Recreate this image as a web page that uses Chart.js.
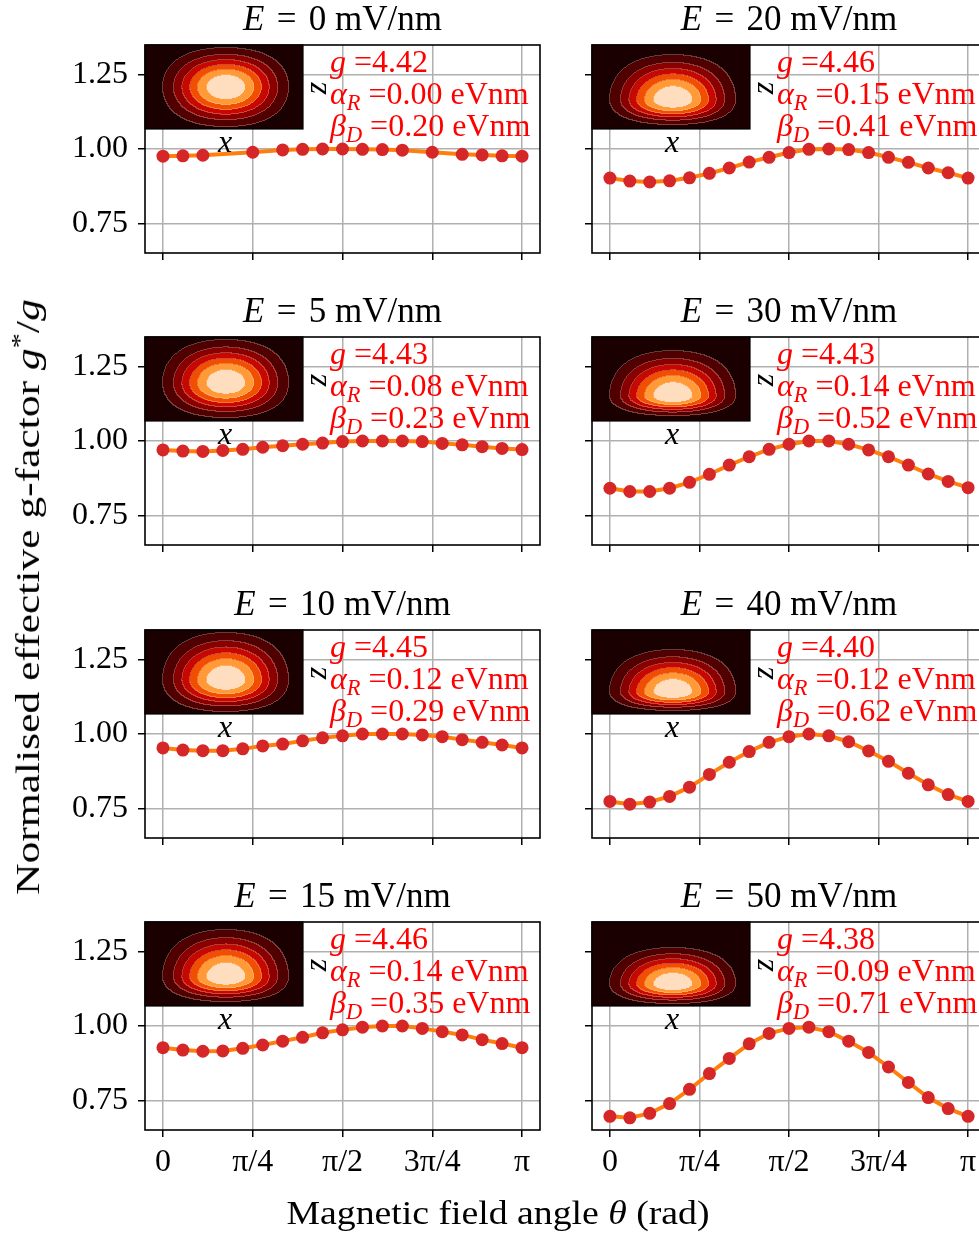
<!DOCTYPE html>
<html lang="en">
<head>
<meta charset="UTF-8">
<title>Normalised effective g-factor vs field angle</title>
<script src="https://cdn.jsdelivr.net/npm/chart.js"></script>
<style>
  html, body { margin: 0; padding: 0; background: #fff; overflow: hidden; }
  body { width: 979px; height: 1235px; position: relative; font-family: 'Liberation Serif', 'Times New Roman', serif; }
  canvas { position: absolute; }
  .lbl { position: absolute; white-space: nowrap; font-size: 32px; line-height: 32px; color: #000; }
  .title { width: 400px; text-align: center; font-size: 35px; }
  .title .eq { margin: 0 0.1em; }
  .note { color: #ff0000; }
  .note sub { font-size: 70%; line-height: 0; vertical-align: -0.28em; }
  .rot { transform: translate(-50%, -50%) rotate(-90deg); }
  .mid { transform: translate(-50%, -50%); }
  .axis { font-size: 34px; }
</style>
</head>
<body>
<script>
// angles of the computed points (degrees)
const anglesDeg = [0, 10, 20, 30, 40, 50, 60, 70, 80, 90, 100, 110, 120, 130, 140, 150, 160, 170, 180];
const anglesDegE0 = [0, 10, 20, 45, 60, 70, 80, 90, 100, 110, 120, 135, 150, 160, 170, 180];

// normalised g*/g for each electric field
const gE0  = [0.976, 0.977, 0.979, 0.989, 0.997, 0.999, 1.000, 1.000, 0.999, 0.998, 0.996, 0.989, 0.982, 0.980, 0.977, 0.976];
const gE5  = [0.970, 0.966, 0.965, 0.968, 0.972, 0.979, 0.984, 0.989, 0.993, 0.998, 1.000, 1.000, 1.000, 0.998, 0.992, 0.987, 0.981, 0.975, 0.971];
const gE10 = [0.953, 0.946, 0.944, 0.944, 0.950, 0.960, 0.966, 0.977, 0.987, 0.994, 1.000, 1.000, 1.000, 0.997, 0.991, 0.981, 0.972, 0.963, 0.953];
const gE15 = [0.927, 0.919, 0.915, 0.916, 0.925, 0.936, 0.949, 0.962, 0.977, 0.987, 0.996, 1.000, 1.000, 0.992, 0.981, 0.970, 0.954, 0.941, 0.927];
const gE20 = [0.902, 0.892, 0.889, 0.893, 0.903, 0.918, 0.936, 0.956, 0.972, 0.988, 0.999, 1.000, 0.998, 0.988, 0.972, 0.955, 0.936, 0.920, 0.902];
const gE30 = [0.841, 0.830, 0.830, 0.841, 0.861, 0.888, 0.919, 0.947, 0.972, 0.989, 1.000, 1.000, 0.989, 0.970, 0.947, 0.919, 0.889, 0.864, 0.843];
const gE40 = [0.773, 0.764, 0.771, 0.790, 0.821, 0.864, 0.905, 0.941, 0.972, 0.991, 1.000, 0.994, 0.974, 0.943, 0.908, 0.868, 0.829, 0.796, 0.773];
const gE50 = [0.696, 0.691, 0.706, 0.739, 0.787, 0.840, 0.891, 0.940, 0.975, 0.992, 0.996, 0.981, 0.949, 0.911, 0.862, 0.810, 0.759, 0.722, 0.696];

// panel annotations
const fields  = [0, 5, 10, 15, 20, 30, 40, 50];
const gFactor = [4.42, 4.43, 4.45, 4.46, 4.46, 4.43, 4.40, 4.38];
const alphaR  = [0.00, 0.08, 0.12, 0.14, 0.15, 0.14, 0.12, 0.09];
const betaD   = [0.20, 0.23, 0.29, 0.35, 0.41, 0.52, 0.62, 0.71];

// ticks
const xTickValues = [0, Math.PI / 4, Math.PI / 2, 3 * Math.PI / 4, Math.PI];
const xTickLabels = ['0', 'π/4', 'π/2', '3π/4', 'π'];
const yTickValues = [0.75, 1.00, 1.25];

// inset density shape (px inside the 158x84 inset): peak row, reach above and below
const insetPeak = [42, 46, 50, 55, 55, 59, 62, 62];
const insetUp   = [39, 43, 47, 47, 45, 45, 42, 36];
const insetDown = [40, 35, 32, 25, 25, 20, 19, 20];

const series = [gE0, gE5, gE10, gE15, gE20, gE30, gE40, gE50];

// layout
const rowTops = [45, 337, 630, 922];
const axH = 208;
const colLeft = [145, 592];
const colRight = [540, 986];
const canvasLeft = [0, 560];
const canvasWidth = [560, 440];
const insetW = 158, insetH = 84;
const tickFont = { family: "'Liberation Serif', serif", size: 32 };

const bandColors = [[26, 0, 0], [80, 0, 0], [138, 0, 0], [198, 8, 0], [240, 78, 0], [255, 154, 54], [255, 222, 192]];

// flat-topped bump that reaches 1/7 at distance D
function bump(d, D) {
  const t = 0.908 * d / D;
  if (Math.abs(t) >= Math.PI / 2) return 0;
  return Math.cos(t) ** 4;
}

function makeInset(p) {
  const off = document.createElement('canvas');
  off.width = insetW; off.height = insetH;
  const c = off.getContext('2d');
  const img = c.createImageData(insetW, insetH);
  const band = new Uint8Array(insetW * insetH);
  for (let j = 0; j < insetH; j++) {
    for (let i = 0; i < insetW; i++) {
      const dx = i + 0.5 - 81;
      const dz = j + 0.5 - insetPeak[p];
      const d = bump(dx, 63) * bump(dz, dz < 0 ? insetUp[p] : insetDown[p]);
      band[j * insetW + i] = Math.min(6, Math.floor(d * 7));
    }
  }
  for (let j = 0; j < insetH; j++) {
    for (let i = 0; i < insetW; i++) {
      const n = j * insetW + i;
      let [r, g, b] = bandColors[band[n]];
      const edge = (i + 1 < insetW && band[n + 1] !== band[n]) || (j + 1 < insetH && band[n + insetW] !== band[n]);
      if (edge) { r = r * 0.7 + 255 * 0.3; g = g * 0.7 + 210 * 0.3; b = b * 0.7 + 190 * 0.3; }
      img.data[4 * n] = r; img.data[4 * n + 1] = g; img.data[4 * n + 2] = b; img.data[4 * n + 3] = 255;
    }
  }
  c.putImageData(img, 0, 0);
  return off;
}

function makeDecor(inset) {
  return {
    id: 'panelDecor',
    afterDraw(chart) {
      const { ctx, chartArea: a } = chart;
      ctx.save();
      ctx.strokeStyle = '#000';
      ctx.lineWidth = 1.6;
      ctx.strokeRect(a.left, a.top, a.right - a.left, a.bottom - a.top);
      ctx.drawImage(inset, a.left, a.top);
      ctx.lineWidth = 1.2;
      ctx.strokeRect(a.left, a.top, insetW, insetH);
      ctx.restore();
    }
  };
}

function addLabel(html, cls, left, top) {
  const d = document.createElement('div');
  d.className = 'lbl ' + cls;
  d.innerHTML = html;
  d.style.left = left + 'px';
  d.style.top = top + 'px';
  document.body.appendChild(d);
  return d;
}

series.forEach((values, p) => {
  const col = p < 4 ? 0 : 1;
  const row = p % 4;
  const angles = p === 0 ? anglesDegE0 : anglesDeg;
  const bottomRow = row === 3;
  const xAxisH = bottomRow ? 60 : 12;
  const cTop = rowTops[row] - 10;
  const cH = 10 + axH + (bottomRow ? 70 : 20);

  const canvas = document.createElement('canvas');
  canvas.width = canvasWidth[col];
  canvas.height = cH;
  canvas.style.left = canvasLeft[col] + 'px';
  canvas.style.top = cTop + 'px';
  document.body.appendChild(canvas);

  new Chart(canvas, {
    type: 'line',
    data: {
      datasets: [{
        data: angles.map((a, i) => ({ x: a * Math.PI / 180, y: values[i] })),
        borderColor: '#ff7f0e',
        borderWidth: 4,
        pointBackgroundColor: '#d62728',
        pointBorderColor: '#d62728',
        pointBorderWidth: 0,
        pointRadius: 6.5,
        tension: 0
      }]
    },
    options: {
      responsive: false,
      animation: false,
      devicePixelRatio: 1,
      layout: {
        padding: {
          left: 0,
          right: canvasLeft[col] + canvasWidth[col] - colRight[col],
          top: 10,
          bottom: cH - 10 - axH - xAxisH
        }
      },
      plugins: { legend: { display: false }, tooltip: { enabled: false } },
      scales: {
        x: {
          type: 'linear',
          min: -0.05 * Math.PI,
          max: 1.05 * Math.PI,
          afterBuildTicks: s => { s.ticks = xTickValues.map(v => ({ value: v })); },
          afterFit: s => { s.height = xAxisH; s.paddingLeft = 0; s.paddingRight = 0; },
          ticks: {
            display: bottomRow,
            autoSkip: false,
            maxRotation: 0,
            padding: 6,
            color: '#000',
            font: tickFont,
            callback: (v, i) => xTickLabels[i]
          },
          grid: { color: '#b0b0b0', lineWidth: 1.5, tickColor: '#000', tickWidth: 1.5, tickLength: 7 },
          border: { display: false }
        },
        y: {
          min: 0.65,
          max: 1.35,
          afterBuildTicks: s => { s.ticks = yTickValues.map(v => ({ value: v })); },
          afterFit: s => { s.width = colLeft[col] - canvasLeft[col]; s.paddingTop = 0; s.paddingBottom = 0; },
          ticks: {
            display: col === 0,
            padding: 10,
            color: '#000',
            font: tickFont,
            callback: v => v.toFixed(2)
          },
          grid: { color: '#b0b0b0', lineWidth: 1.5, tickColor: '#000', tickWidth: 1.5, tickLength: 7 },
          border: { display: false }
        }
      }
    },
    plugins: [makeDecor(makeInset(p))]
  });

  const axL = colLeft[col];
  const axC = (colLeft[col] + colRight[col]) / 2;
  const top = rowTops[row];
  addLabel('<i>E</i> <span class="eq">=</span> ' + fields[p] + ' mV/nm', 'title', axC - 200, top - 42);
  addLabel('<i>g</i> =' + gFactor[p].toFixed(2) + '<br>' +
           '<i>α<sub>R</sub></i> =' + alphaR[p].toFixed(2) + ' eVnm<br>' +
           '<i>β<sub>D</sub></i> =' + betaD[p].toFixed(2) + ' eVnm', 'note', axL + 185, top);
  addLabel('<i>x</i>', 'mid', axL + 80, top + 96);
  addLabel('<i>z</i>', 'rot', axL + 170, top + 43);
});

// axis titles, stretched along the text to the reference length
function fitAxisLabel(el, target, rotate) {
  const k = target / el.offsetWidth;
  el.style.transform = 'translate(-50%, -50%)' + (rotate ? ' rotate(-90deg)' : '') + ' scaleX(' + k.toFixed(3) + ')';
}
const yLab = addLabel('Normalised effective g-factor <i>g</i><sup style="font-size:70%;line-height:0">*</sup>/<i>g</i>', 'axis', 28, 597);
const xLab = addLabel('Magnetic field angle <i>θ</i> (rad)', 'axis', 498, 1213);
fitAxisLabel(yLab, 595, true);
fitAxisLabel(xLab, 423, false);
</script>
</body>
</html>
